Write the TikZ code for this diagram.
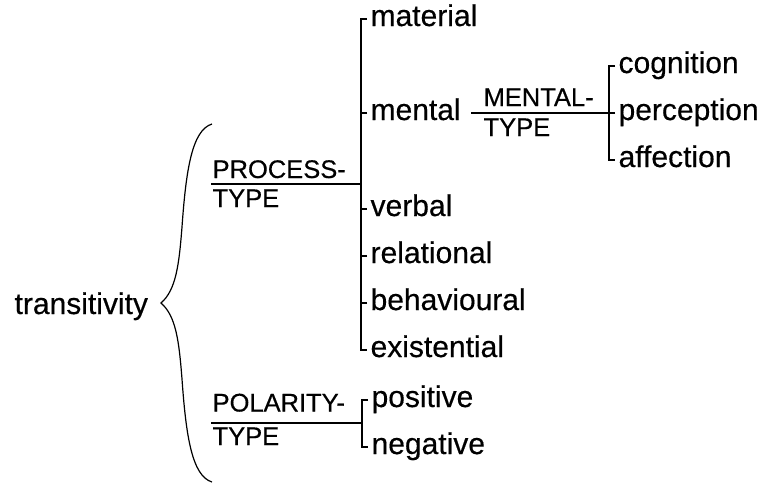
\documentclass[tikz,border=0pt]{standalone}
\usepackage{fontspec}
\setmainfont{Liberation Sans}[FakeBold=0.4]
\begin{document}
\begin{tikzpicture}[x=1pt,y=-1pt,line width=1.2pt,
  main/.style={font=\fontsize{30}{30}\selectfont, inner xsep=3pt, inner ysep=0pt, text height=14pt, text depth=0pt, anchor=west},
  feat/.style={font=\fontsize{25.5}{26}\selectfont, inner sep=0pt, anchor=base west}]
\useasboundingbox (0,0) rectangle (762,485);
% left
\node[main] (transitivity) at (11,307) {transitivity};
\draw (212,124) .. controls (192,130) and (186,170) .. (182,227)
  .. controls (179,265) and (176,290) .. (161,303)
  .. controls (176,316) and (179,341) .. (182,379)
  .. controls (186,436) and (192,476) .. (212,482);
% process type
\node[feat] (process) at (212,178) {PROCESS-};
\node[feat] (ptype) at (212,207) {TYPE};
\coordinate (pstart) at (211,184);
\coordinate (pbar) at (361,184);
\draw (pstart) -- (pbar);
\node[main] (material) at (367,19) {material};
\node[main] (mental) at (367,113) {mental};
\node[main] (verbal) at (367,209) {verbal};
\node[main] (relational) at (367,256) {relational};
\node[main] (behavioural) at (367,303) {behavioural};
\node[main] (existential) at (367,350) {existential};
\draw (material.west) -| (pbar) |- (existential.west);
\foreach \n in {mental,verbal,relational,behavioural}
  \draw (\n.west) -- (\n.west -| pbar);
% mental type
\node[feat] (mentalf) at (483,106) {MENTAL-};
\node[feat] (mtype) at (483,136) {TYPE};
\coordinate (mbar) at (609,113);
\draw ([xshift=7pt]mental.east) -- (mbar);
\node[main] (cognition) at (615,66) {cognition};
\node[main] (perception) at (615,113) {perception};
\node[main] (affection) at (615,160) {affection};
\draw (cognition.west) -| (mbar) |- (affection.west);
\draw (perception.west) -- (mbar);
% polarity type
\node[feat] (polarity) at (212,411.5) {POLARITY-};
\node[feat] (oltype) at (212,445) {TYPE};
\coordinate (ostart) at (211,423);
\coordinate (obar) at (362,423);
\draw (ostart) -- (obar);
\node[main] (positive) at (368,400) {positive};
\node[main] (negative) at (368,447) {negative};
\draw (positive.west) -| (obar) |- (negative.west);
\end{tikzpicture}
\end{document}
